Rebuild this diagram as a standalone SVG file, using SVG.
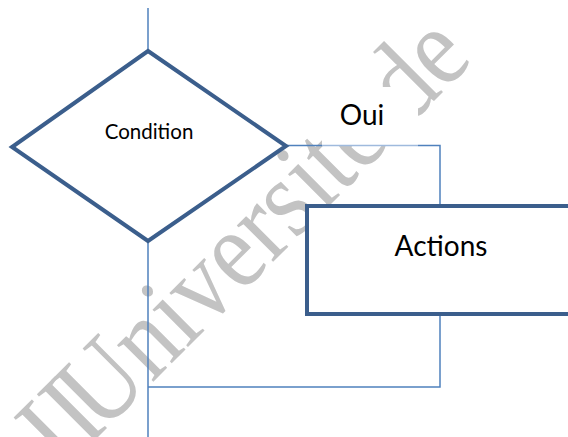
<svg xmlns="http://www.w3.org/2000/svg" width="568" height="437" viewBox="0 0 568 437">
<style>
.wm{font-family:"Liberation Serif","Times New Roman",serif;font-size:112px;fill:#c3c3c3}
.shape{fill:#ffffff;stroke:#3b5e8c;stroke-width:4}
.conn{fill:none;stroke:#4f81bd;stroke-width:1.5}
.lbl{font-family:Lato,"Open Sans",sans-serif;fill:#000000;text-anchor:middle}
</style>
<rect width="568" height="437" fill="#ffffff"/>
<text class="wm" transform="translate(63,472) rotate(-45) scale(0.88,1)">II<tspan dx="-13">Université de</tspan></text>
<rect x="322" y="87" width="96" height="58" fill="#ffffff"/>
<g id="connectors">
<path class="conn" d="M148,8 V51"/>
<path class="conn" d="M286,145.5 H322 M418,145.5 H440 V206"/>
<path class="conn" d="M322,145.5 H418" style="stroke:#9fbadd"/>
<path class="conn" d="M440,314 V387 H148"/>
<path class="conn" d="M148,241 V437"/>
</g>
<g id="condition">
<polygon class="shape" points="148,51 286,146 148,241 12,147"/>
<text class="lbl" x="149" y="139" font-size="20.5">Condition</text>
</g>
<g id="label-oui">
<text class="lbl" x="362" y="125" font-size="28">Oui</text>
</g>
<g id="actions">
<rect class="shape" x="307" y="206" width="280" height="108"/>
<text class="lbl" x="441" y="256" font-size="28">Actions</text>
</g>
</svg>
